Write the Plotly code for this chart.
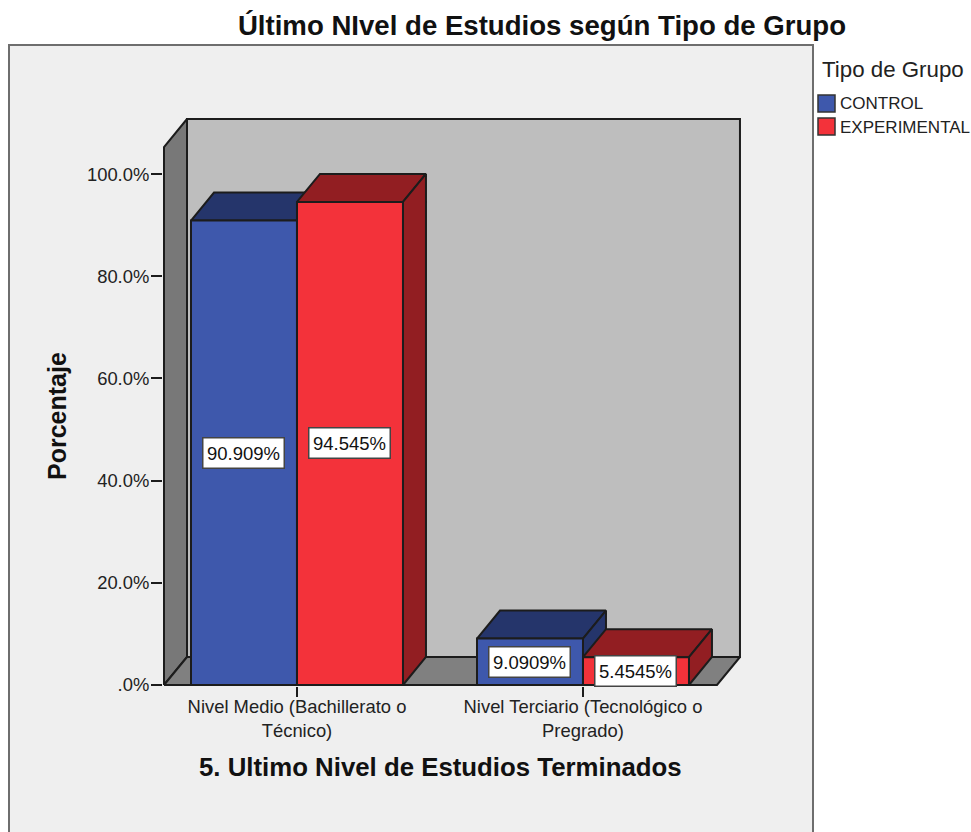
import plotly.graph_objects as go

categories = ["Nivel Medio (Bachillerato o<br>Técnico)", "Nivel Terciario (Tecnológico o<br>Pregrado)"]
control = [90.909, 9.0909]
experimental = [94.545, 5.4545]
y_ticks = [0, 20, 40, 60, 80, 100]
y_tick_labels = [".0%", "20.0%", "40.0%", "60.0%", "80.0%", "100.0%"]

FONT = "Liberation Sans"
INK = "#1c1c1c"
W, H = 971, 832
M_L, M_R, M_T, M_B = 163, 230, 118, 146

# one category step is 286 px, 100% is 511 px; ranges keep 1 px spare so outlines are not clipped
X_RANGE = [-0.4685, 1.5525]
Y_RANGE = [-0.196, 110.976]
BOX_X = [-0.465, 1.4685]  # front plane of the box
BOX_TOP = 105.3
BAR_W = 0.3706
DX = 0.0804  # depth of the fake 3d box, in axis units
DY = 5.48


def poly(xs, ys, fill, width=2, name=None):
    return go.Scatter(
        x=xs + xs[:1],
        y=ys + ys[:1],
        mode="lines",
        fill="toself",
        fillcolor=fill,
        line=dict(color=INK, width=width),
        name=name,
        showlegend=False,
        hoverinfo="skip",
    )


def bar_3d(x0, val, front, dark, name):
    x1 = x0 + BAR_W
    return [
        poly([x0, x0 + DX, x1 + DX, x1], [val, val + DY, val + DY, val], dark),
        poly([x1, x1 + DX, x1 + DX, x1], [0, DY, val + DY, val], dark),
        poly([x0, x1, x1, x0], [0, 0, val, val], front, name=name),
    ]


def px_x(px):
    return (px - M_L) / (W - M_L - M_R)


def px_y(py):
    return (H - M_B - py) / (H - M_T - M_B)


fig = go.Figure()

x_l, x_r = BOX_X
fig.add_trace(poly([x_l + DX, x_r + DX, x_r + DX, x_l + DX], [DY, DY, BOX_TOP + DY, BOX_TOP + DY], "#bebebe"))
fig.add_trace(poly([x_l, x_l + DX, x_l + DX, x_l], [0, DY, BOX_TOP + DY, BOX_TOP], "#787878"))
fig.add_trace(poly([x_l, x_r, x_r + DX, x_l + DX], [0, 0, DY, DY], "#808080"))

annotations = []
for i in range(len(categories)):
    for x0, val, front, dark, name in [
        (i - BAR_W, control[i], "#3e58ac", "#25356b", "CONTROL"),
        (i, experimental[i], "#f3323a", "#921e22", "EXPERIMENTAL"),
    ]:
        fig.add_traces(bar_3d(x0, val, front, dark, name))
        annotations.append(dict(
            x=x0 + BAR_W / 2,
            y=val / 2,
            text=f"{val:.5g}%",
            showarrow=False,
            font=dict(family=FONT, size=18.5, color="#111111"),
            bgcolor="white",
            bordercolor="#444444",
            borderwidth=1.5,
            borderpad=2,
            width=76,
            height=25,
        ))

# legend, placed by hand next to the panel
legend_items = [("CONTROL", "#3e58ac", 104), ("EXPERIMENTAL", "#f3323a", 127)]
shapes = [dict(
    type="rect", xref="paper", yref="paper", layer="below",
    x0=px_x(9), x1=px_x(813), y0=px_y(45), y1=px_y(840),
    fillcolor="#efefef", line=dict(color="#6e6e6e", width=2),
)]
for name, color, py in legend_items:
    shapes.append(dict(
        type="rect", xref="paper", yref="paper",
        x0=px_x(818), x1=px_x(835), y0=px_y(py - 9), y1=px_y(py + 8),
        fillcolor=color, line=dict(color="#333333", width=1.5),
    ))
    annotations.append(dict(
        xref="paper", yref="paper", x=px_x(838), y=px_y(py), xanchor="left", yanchor="middle",
        text=name, showarrow=False, font=dict(family=FONT, size=17, color="#222222"),
    ))
annotations.append(dict(
    xref="paper", yref="paper", x=px_x(820), y=px_y(69), xanchor="left", yanchor="middle",
    text="Tipo de Grupo", showarrow=False, font=dict(family=FONT, size=22.3, color="#222222"),
))

# axis titles are centred on the front plane, not on the whole plot area
annotations.append(dict(
    xref="paper", yref="paper", x=px_x(440), y=px_y(767), xanchor="center", yanchor="middle",
    text="<b>5. Ultimo Nivel de Estudios Terminados</b>", showarrow=False,
    font=dict(family=FONT, size=25.8, color="#111111"),
))
annotations.append(dict(
    xref="paper", yref="paper", x=px_x(57), y=px_y(416), xanchor="center", yanchor="middle",
    text="<b>Porcentaje</b>", showarrow=False, textangle=-90,
    font=dict(family=FONT, size=25, color="#111111"),
))

fig.update_layout(
    width=W,
    height=H,
    margin=dict(l=M_L, r=M_R, t=M_T, b=M_B),
    paper_bgcolor="white",
    plot_bgcolor="rgba(0,0,0,0)",
    showlegend=False,
    title=dict(
        text="<b>Último NIvel de Estudios según Tipo de Grupo</b>",
        x=542 / W, xanchor="center", y=1 - 25 / H, yanchor="middle",
        font=dict(family=FONT, size=27.6, color="#111111"),
    ),
    xaxis=dict(
        range=X_RANGE,
        tickmode="array",
        tickvals=list(range(len(categories))),
        ticktext=categories,
        ticks="outside", ticklen=10, tickwidth=2, tickcolor=INK,
        tickfont=dict(family=FONT, size=18.4, color="#222222"),
        ticklabelstandoff=-6,
        tickangle=0,
        showgrid=False, zeroline=False, showline=False,
    ),
    yaxis=dict(
        range=Y_RANGE,
        tickmode="array",
        tickvals=y_ticks,
        ticktext=y_tick_labels,
        ticks="outside", ticklen=11, tickwidth=2, tickcolor=INK,
        tickfont=dict(family=FONT, size=18.4, color="#222222"),
        ticklabelstandoff=-2,
        showgrid=False, zeroline=False, showline=False,
    ),
    annotations=annotations,
    shapes=shapes,
)

fig.write_html(
    "out.html",
    config=dict(displayModeBar=False),
    post_script="document.body.style.margin='0';document.body.style.overflow='hidden';",
)
